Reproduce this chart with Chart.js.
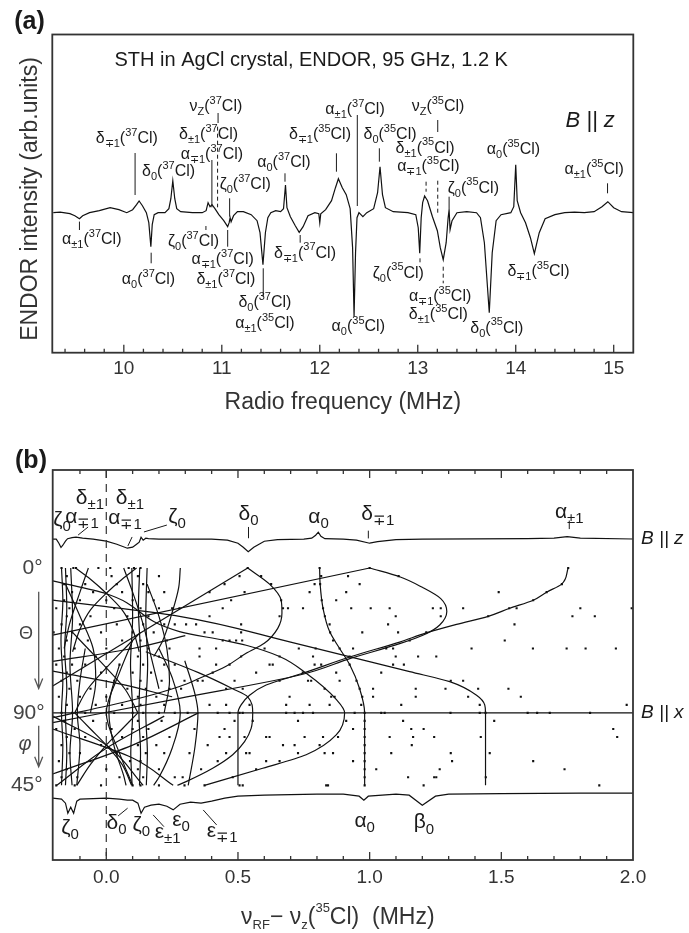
<!DOCTYPE html>
<html>
<head>
<meta charset="UTF-8">
<title>STH in AgCl – ENDOR</title>
<script src="https://cdn.jsdelivr.net/npm/chart.js"></script>
<style>
  body { margin: 0; background: #fff; }
  #wrap { position: relative; width: 689px; height: 933px; }
  canvas { position: absolute; left: 0; }
  #chartA { top: 0; }
  #chartB { top: 440px; }
</style>
</head>
<body>
<div id="wrap">
  <canvas id="chartA" width="689" height="420"></canvas>
  <canvas id="chartB" width="689" height="493"></canvas>
</div>
<script>
// ---------- data, panel (a): ENDOR spectrum for B || z ----------
const ticksA = [10, 11, 12, 13, 14, 15];
const specAFreq = [9.28, 9.35, 9.45, 9.50, 9.547, 9.58, 9.65, 9.75, 9.86, 9.95,
  10.03, 10.09, 10.13, 10.156, 10.19, 10.23, 10.255, 10.276, 10.29, 10.31,
  10.35, 10.42, 10.46, 10.48, 10.50, 10.52, 10.54, 10.58, 10.70, 10.80,
  10.84, 10.86, 10.88, 10.90, 10.93, 10.97, 11.02, 11.06, 11.075, 11.085,
  11.095, 11.12, 11.16, 11.22, 11.30, 11.36, 11.39, 11.42, 11.445, 11.47,
  11.50, 11.55, 11.60, 11.63, 11.65, 11.665, 11.70, 11.75, 11.79, 11.83,
  11.88, 11.95, 11.99, 12.00, 12.01, 12.06, 12.12, 12.16, 12.19, 12.23,
  12.27, 12.31, 12.335, 12.35, 12.365, 12.38, 12.40, 12.44, 12.48, 12.55,
  12.59, 12.615, 12.64, 12.67, 12.75, 12.90, 12.98, 13.005, 13.02, 13.035,
  13.05, 13.07, 13.10, 13.15, 13.20, 13.23, 13.26, 13.29, 13.31, 13.32,
  13.33, 13.35, 13.40, 13.50, 13.60, 13.64, 13.68, 13.73, 13.76, 13.80,
  13.85, 13.95, 13.98, 14.00, 14.015, 14.05, 14.10, 14.15, 14.19, 14.24,
  14.30, 14.40, 14.50, 14.60, 14.70, 14.80, 14.88, 14.94, 15.00, 15.08,
  15.20];
const specAInt = [0, 0.5, -1, -3, -6, -3, 0, 2, 5, 3,
  0, 3, 8, 11.7, 7, 0, -10, -34, -12, -2,
  0, 0, 4, 14, 32, 14, 4, 1, 0, 0,
  2, 10, 6, 8, 4, -2, -8, -14, -10, -5,
  -9, -3, 1, 1, -2, -8, -20, -52, -20, -5,
  0, 2, 1, 4, 27.7, 5, -4, -13, -19.6, -14,
  -3, 0, -1, -10, -1, 3, 12, 25, 34, 25,
  18, 4, -35, -104, -40, -5, 0, -4, 0, 4,
  20, 46, 18, 5, 1, 0, -2, -15, -40.6, -5,
  10, 16.7, 12, -4, -18, -35, -47, -30, -5, 3,
  -17, -8, 0, 1, 0, -5, -30, -100, -40, -8,
  -2, 0, 6, 48, 12, 0, -10, -25, -41, -20,
  -6, -2, 0, 0.5, 0, 1, 6, 11, 5, 1,
  0];

// line assignments: text, frequency (MHz), intensity
const labelsA = [
  ['δ_{∓1}(^{37}Cl)', 10.031, 73.7], ['δ_{0}(^{37}Cl)', 10.457, 41],
  ['ν_{Z}(^{37}Cl)', 10.94, 105.7], ['δ_{±1}(^{37}Cl)', 10.865, 77.7],
  ['α_{∓1}(^{37}Cl)', 10.899, 57.7], ['ζ_{0}(^{37}Cl)', 11.239, 27.7],
  ['α_{0}(^{37}Cl)', 11.634, 49.7], ['α_{±1}(^{37}Cl)', 12.36, 102.7],
  ['δ_{∓1}(^{35}Cl)', 12.002, 77.7], ['δ_{0}(^{35}Cl)', 12.717, 77.7],
  ['ν_{Z}(^{35}Cl)', 13.207, 105.7], ['δ_{±1}(^{35}Cl)', 13.075, 64.4],
  ['α_{∓1}(^{35}Cl)', 13.108, 46], ['ζ_{0}(^{35}Cl)', 13.568, 24.4],
  ['α_{0}(^{35}Cl)', 13.977, 62.7], ['α_{±1}(^{35}Cl)', 14.801, 42.7],
  ['α_{±1}(^{37}Cl)', 9.673, -27.3], ['α_{0}(^{37}Cl)', 10.252, -67.3],
  ['ζ_{0}(^{37}Cl)', 10.712, -29], ['α_{∓1}(^{37}Cl)', 11.008, -47.3],
  ['δ_{±1}(^{37}Cl)', 11.042, -67.3], ['δ_{0}(^{37}Cl)', 11.44, -90.3],
  ['α_{±1}(^{35}Cl)', 11.44, -111.3], ['δ_{∓1}(^{37}Cl)', 11.849, -40.6],
  ['α_{0}(^{35}Cl)', 12.393, -114], ['ζ_{0}(^{35}Cl)', 12.802, -60.6],
  ['α_{∓1}(^{35}Cl)', 13.228, -84], ['δ_{±1}(^{35}Cl)', 13.21, -102.3],
  ['δ_{0}(^{35}Cl)', 13.807, -115.6], ['δ_{∓1}(^{35}Cl)', 14.232, -59]
];
// marker strokes: frequency, from, to, dashed
const markersA = [
  [10.115, 59.7, 17.7, 0], [10.962, 99.7, 89.7, 0], [10.957, 86, 5.4, 1],
  [10.899, 52.7, 5.4, 0], [11.08, 14.4, -4, 0], [11.645, 39.4, 31, 0],
  [12.383, 97.7, 6.7, 0], [12.17, 59.4, 41, 0], [12.608, 64.4, 51, 0],
  [13.204, 92.7, 80.7, 0], [13.204, 32, 0, 1], [13.085, 31, 21, 1],
  [13.32, 16, 2.7, 0], [14.937, 29.4, 19.4, 0], [9.547, -8.9, -17.3, 0],
  [10.279, -40, -50.6, 0], [10.838, -13.3, -20.6, 1], [11.06, -17.3, -34, 0],
  [11.423, -55.6, -84, 0], [11.80, -22.3, -30, 0], [13.023, -45.6, -52.3, 1],
  [13.26, -54, -70.6, 1]
];

// ---------- data, panel (b): angular dependence ----------
const ticksB = [0.0, 0.5, 1.0, 1.5, 2.0];
// spectra B || z (top) and B || x (bottom): offset (MHz), intensity
const specTopX = [-0.2035, -0.19, -0.18, -0.172, -0.165, -0.155, -0.147, -0.13, -0.115, -0.09,
  -0.05, 0.0, 0.04, 0.08, 0.1, 0.115, 0.125, 0.132, 0.14, 0.15, 0.16, 0.2, 0.4, 0.46, 0.5,
  0.52, 0.539, 0.56, 0.6, 0.65, 0.75, 0.78, 0.795, 0.805, 0.815, 0.83, 0.9, 0.95, 1.0, 1.03,
  1.1, 1.2, 1.6, 1.7, 1.75, 1.8, 2.0];
const specTopI = [0, 0, -4, -8.3, -6, -2, 0.5, 1.5, 2, 1,
  0, -2, -5, -9, -8, -5, -3, 2, -1, 1, 0.5, 0, 0, -1, -4,
  -8, -12.5, -8, -2, -0.5, 0, 1, 4, 7, 3, 0.5, 0, -1, -4, -2.5,
  -0.5, 0, 0.5, 1, 2.5, 1, 0.2];
const specBotX = [-0.2035, -0.17, -0.155, -0.146, -0.135, -0.124, -0.112, -0.1, -0.05, 0.0,
  0.05, 0.08, 0.1, 0.12, 0.132, 0.145, 0.17, 0.2, 0.23, 0.254,
  0.28, 0.32, 0.36, 0.4, 0.45, 0.5, 0.6, 0.8, 0.9, 0.96,
  0.978, 0.995, 1.1, 1.15, 1.2, 1.25, 1.3, 1.5, 1.8, 2.0];
const specBotI = [0, -1, -5, -15, -9, -15, -3, -1, -0.5, 0,
  -1, -2, -2, -5, -15, -9, -7, -6, -8, -11.7,
  -6, -4, -5, -3, 0, 2, 3, 4, 4, 2,
  -2, 2, 4, 3, -7, 2, 4, 4.5, 5, 5];

// fitted line positions: [offset MHz, angle]; 0..90 = Theta, 90..135 = 90 + phi
const curveAlphaPM1 = [[1.754,0],[1.729,10],[1.672,15],[1.621,20],[1.532,25],[1.45,30],[1.33,35],
  [1.215,40.3],[1.114,46],[0.93,55],[0.746,65.4],[0.607,72.7],[0.544,79],[0.512,85],[0.5,90],[0.5,135]];
const curveDeltaMP1 = [[1.0,0],[1.114,5.4],[1.2,12],[1.27,19],[1.293,27],[1.266,35.4],[1.215,40.8],
  [1.114,47],[0.93,56],[0.746,66],[0.278,81],[-0.2035,96]];
const curveBeta = [[-0.2035,20],[0.0,24],[0.278,30],[0.7,46],[1.152,64.4],[1.304,70.6],[1.406,79],
  [1.437,85],[1.44,90],[1.44,135]];
const curveAlpha0 = [[0.81,0],[0.812,10],[0.823,25],[0.848,39.5],[0.886,50],[0.924,60],[0.962,75],
  [0.981,90],[0.981,135]];
const curveDelta0 = [[0.537,0],[0.62,10],[0.664,20],[0.667,28],[0.651,37.5],[0.6,46.8],[0.531,53],
  [0.455,61],[0.354,68.5],[0.278,73.6],[0.1,82],[-0.2035,93]];
const curveOuter = [[-0.2035,8],[0.0,16],[0.278,39.5],[0.45,45],[0.531,48],[0.658,55],[0.759,65.4],
  [0.873,81.6],[0.905,90],[0.873,103.7],[0.759,116],[0.594,124.4],[0.373,135]];
const curveInner = [[0.15,52],[0.35,65],[0.48,75],[0.537,80],[0.556,90],[0.55,99.6],[0.525,107.9],
  [0.48,116],[0.404,124.4],[0.303,132.7],[0.27,135]];
const lineD1 = [[1.0,0],[-0.2035,41.7]];
const lineD2 = [[0.537,0],[-0.2035,73.3]];
const tangleCurves = [
  [[-0.17,0],[-0.165,20],[-0.172,45],[-0.165,70],[-0.17,90],[-0.165,110],[-0.17,135]],
  [[-0.155,0],[-0.15,25],[-0.158,50],[-0.15,75],[-0.155,90],[-0.15,115],[-0.155,135]],
  [[-0.135,0],[-0.128,30],[-0.138,60],[-0.128,90],[-0.138,115],[-0.13,135]],
  [[0.097,0],[0.1,30],[0.092,60],[0.1,90],[0.093,115],[0.098,135]],
  [[0.127,0],[0.122,25],[0.13,55],[0.124,90],[0.13,115],[0.126,135]],
  [[0.155,0],[0.15,30],[0.157,60],[0.15,90],[0.156,115],[0.152,135]],
  [[-0.117,0],[-0.06,7],[0,15.7],[0.06,26],[0.1,38],[0.125,52]],
  [[0.115,0],[0.06,7],[0,15.7],[-0.06,26],[-0.1,38],[-0.128,52]],
  [[-0.128,40],[-0.07,50],[0,62],[0.07,75],[0.12,90]],
  [[0.13,40],[0.07,50],[0,62],[-0.07,75],[-0.12,90]],
  [[-0.12,90],[-0.06,100],[0,110],[0.06,122],[0.096,135]],
  [[0.12,90],[0.06,100],[0,110],[-0.06,122],[-0.112,135]],
  [[-0.068,0],[-0.1,15],[-0.14,35],[-0.16,50]],
  [[0.066,0],[0.1,15],[0.14,35],[0.17,55],[0.2,75]],
  [[0.2,50],[0.25,68],[0.281,90],[0.25,112],[0.2,130],[0.18,135]],
  [[0.298,57.6],[0.337,78.5],[0.348,90],[0.337,110.7],[0.311,135]],
  [[0.051,59.5],[0.015,80],[0.01,90],[0.03,111],[0.066,129],[0.075,135]],
  [[-0.08,50],[-0.1,70],[-0.11,90],[-0.1,110],[-0.112,135]],
  [[0.35,90],[0.1,110],[-0.2035,128]],
  [[-0.2035,100],[0.1,118],[0.254,135]],
  [[0.22,92],[0.0,112],[-0.188,135]],
  [[-0.2035,92],[0.0,110],[0.14,135]],
  [[0.281,0],[0.275,12],[0.249,28.2],[0.212,46],[0.18,55]],
  [[-0.155,10],[-0.1,30],[-0.05,50],[-0.04,70],[-0.06,90]],
  [[0.155,10],[0.2,30],[0.23,50],[0.24,70],[0.22,90]],
  [[0.1,45],[0.05,65],[0.0,90],[0.05,115],[0.1,135]],
  [[0.3,42],[0.1,50],[-0.2035,58]],
  [[-0.2035,64],[0.05,72],[0.25,80]]
];
// measured line positions: [angle, [offsets]]
const dotRows = [
  [0, [-0.17,-0.125,-0.115,-0.03,0.015,0.085,0.105,0.13,0.537,0.81,1.0,1.754]],
  [5, [-0.15,0.02,0.12,0.2,0.506,0.588,0.816,0.918,1.11]],
  [10, [-0.16,-0.08,0.04,0.14,0.449,0.626,0.791,0.812,0.962,1.73]],
  [15, [-0.13,-0.05,0.06,0.16,0.22,0.392,0.525,0.772,0.911,1.49,1.672]],
  [20, [-0.16,-0.1,0.0,0.1,0.18,0.474,0.664,0.818,0.873,1.621]],
  [25, [-0.19,-0.14,0.03,0.13,0.2,0.25,0.278,0.442,0.671,0.690,0.747,0.823,0.930,1.004,1.076,1.24,1.27,1.355,1.53,1.558,1.8,1.995]],
  [30, [-0.15,-0.06,0.08,0.16,0.392,0.658,0.83,1.099,1.27,1.45,1.77,1.855]],
  [35, [-0.17,-0.1,0.04,0.14,0.22,0.26,0.303,0.341,0.512,0.848,1.070,1.55]],
  [40, [-0.2,-0.13,-0.02,0.1,0.18,0.373,0.404,0.512,0.85,0.972,1.108,1.215]],
  [45, [-0.15,-0.07,0.06,0.13,0.23,0.442,0.468,0.493,0.516,0.861,1.152,1.513]],
  [50, [-0.18,-0.12,0.0,0.09,0.16,0.24,0.354,0.417,0.601,0.731,0.795,0.886,0.937,1.063,1.089,1.387,1.62,1.748,1.82,1.935]],
  [55, [-0.16,-0.04,0.12,0.2,0.354,0.512,0.658,0.785,0.924,1.099,1.184,1.253]],
  [60, [-0.19,-0.13,-0.08,0.05,0.14,0.22,0.26,0.417,0.468,0.620,0.632,0.791,0.816,0.924,1.089,1.13]],
  [65, [-0.15,-0.02,0.1,0.17,0.404,0.569,0.746,0.873,1.044]],
  [70, [-0.17,-0.11,0.03,0.13,0.21,0.297,0.347,0.366,0.487,0.658,0.766,0.778,0.886,0.95,1.308,1.355]],
  [75, [-0.14,-0.06,0.08,0.15,0.24,0.284,0.455,0.518,0.829,0.962,1.013,1.175,1.288,1.412,1.527]],
  [80, [-0.18,-0.1,0.0,0.12,0.19,0.696,0.854,0.867,0.972,1.013,1.175,1.374,1.574]],
  [85, [-0.15,-0.04,0.06,0.13,0.22,0.392,0.455,0.544,0.683,0.772,0.848,0.968,1.120,1.418,1.976]],
  [90, [-0.17,-0.13,-0.08,0.03,0.1,0.14,0.2,0.26,0.309,0.423,0.468,0.506,0.518,0.683,0.715,0.747,0.785,0.943,0.981,1.044,1.057,1.307,1.418,1.44,1.6,1.636,1.684,1.837]],
  [95, [-0.16,-0.05,0.12,0.21,0.487,0.556,0.728,0.911,0.981,1.127,1.473]],
  [100, [-0.19,-0.12,0.02,0.1,0.16,0.335,0.449,0.937,0.981,1.158,1.205,1.925]],
  [105, [-0.15,-0.08,0.06,0.14,0.24,0.430,0.468,0.525,0.607,0.620,0.753,0.823,0.880,0.981,1.076,1.165,1.245,1.422,1.94]],
  [110, [-0.17,-0.02,0.12,0.19,0.385,0.671,0.715,0.810,0.981,1.16]],
  [115, [-0.14,-0.1,0.04,0.15,0.22,0.316,0.455,0.531,0.544,0.728,0.829,0.861,0.981,1.082,1.308,1.456]],
  [120, [-0.18,-0.06,0.09,0.13,0.423,0.607,0.658,0.937,0.981,1.313,1.621]],
  [125, [-0.15,0.0,0.12,0.2,0.360,0.569,0.981,1.025,1.266,1.74]],
  [130, [-0.17,-0.11,0.05,0.14,0.26,0.290,0.480,0.981,1.146,1.245,1.253,1.441]],
  [135, [-0.19,-0.12,-0.02,0.1,0.13,0.2,0.297,0.373,0.506,0.518,0.835,0.842,0.981,1.205,1.872]]
];
const labelsB = [
  ['δ_{±1}', -0.062, -43.5], ['δ_{±1}', 0.09, -43.5], ['ζ_{0}', -0.168, -29.8],
  ['α_{∓1}', -0.092, -31.7], ['α_{∓1}', 0.071, -31], ['ζ_{0}', 0.269, -31.7],
  ['δ_{0}', 0.54, -33.7], ['α_{0}', 0.806, -31.7], ['δ_{∓1}', 1.031, -33.7],
  ['α_{±1}', 1.758, -34.8],
  ['ζ_{0}', -0.138, 161.7], ['δ_{0}', 0.039, 158.6], ['ζ_{0}', 0.133, 159.6],
  ['ε_{±1}', 0.233, 164], ['ε_{0}', 0.284, 156.5], ['ε_{∓1}', 0.44, 163.5],
  ['α_{0}', 0.981, 157.1], ['β_{0}', 1.206, 158.1]
];
const leadersB = [
  [-0.069,-25.5,-0.107,-20.5], [0.098,-19.3,0.082,-13.7], [0.23,-26.7,0.143,-22.4],
  [0.54,-25.5,0.54,-18.5], [0.995,-23.2,0.995,-18.4], [1.758,-29.5,1.758,-24.2],
  [0.045,154,0.081,149.2], [0.178,153.4,0.219,160.7], [0.368,150.3,0.419,159.6]
];

// ---------- drawing helpers ----------
const FONT = '"Liberation Sans", Arial, Helvetica, sans-serif';
Chart.defaults.font.family = FONT;
const INK = '#1a1a1a';

function richParts(str) {
  const out = [];
  const re = /([_^])\{([^}]*)\}|([^_^]+)/g;
  let m;
  while ((m = re.exec(str))) {
    if (m[3]) out.push({ t: m[3], k: 0 });
    else out.push({ t: m[2], k: m[1] === '_' ? 1 : 2 });
  }
  return out;
}

function drawRich(ctx, str, x, y, size, opts = {}) {
  const ps = richParts(str);
  const ratio = opts.ratio || 0.68;
  const fontOf = k => (opts.italic ? 'italic ' : '') + (k ? Math.round(size * ratio) : size) + 'px ' + FONT;
  let w = 0;
  ps.forEach(p => { ctx.font = fontOf(p.k); p.w = ctx.measureText(p.t).width; w += p.w; });
  let cx = opts.align === 'left' ? x : x - w / 2;
  ctx.textAlign = 'left';
  ctx.textBaseline = 'middle';
  ps.forEach(p => {
    ctx.font = fontOf(p.k);
    const dy = p.k === 1 ? size * 0.33 : p.k === 2 ? -size * 0.38 : 0;
    ctx.fillText(p.t, cx, y + dy);
    cx += p.w;
  });
}

const framePlugin = (panel) => ({
  id: 'frame' + panel,
  afterDraw(chart) {
    const { ctx, chartArea: a, scales: { x, y } } = chart;
    ctx.save();
    ctx.strokeStyle = '#333';
    ctx.lineWidth = 1.8;
    ctx.strokeRect(a.left, a.top, a.right - a.left, a.bottom - a.top);
    ctx.lineWidth = 1.3;
    ctx.beginPath();
    if (panel === 'A') {
      for (let i = 47; i <= 75; i++) {
        const px = x.getPixelForValue(i * 0.2);
        const len = i % 5 === 0 ? 8 : 4;
        ctx.moveTo(px, a.bottom); ctx.lineTo(px, a.bottom - len);
      }
    } else {
      for (let i = -1; i < 20; i++) {
        const px = x.getPixelForValue(i / 10);
        const len = i % 5 === 0 ? 8 : 4;
        ctx.moveTo(px, a.bottom); ctx.lineTo(px, a.bottom - len);
        ctx.moveTo(px, a.top); ctx.lineTo(px, a.top + len);
      }
    }
    ctx.stroke();

    ctx.fillStyle = INK;
    ctx.strokeStyle = INK;
    if (panel === 'A') {
      ctx.lineWidth = 1;
      markersA.forEach(([f, y1, y2, dashed]) => {
        ctx.setLineDash(dashed ? [4, 3] : []);
        ctx.beginPath();
        ctx.moveTo(x.getPixelForValue(f), y.getPixelForValue(y1));
        ctx.lineTo(x.getPixelForValue(f), y.getPixelForValue(y2));
        ctx.stroke();
      });
      ctx.setLineDash([]);
      labelsA.forEach(([t, f, v]) => drawRich(ctx, t, x.getPixelForValue(f), y.getPixelForValue(v), 16, { ratio: 0.7 }));
      ctx.font = '20px ' + FONT;
      ctx.textAlign = 'left'; ctx.textBaseline = 'middle';
      ctx.fillText('STH in AgCl crystal, ENDOR, 95 GHz, 1.2 K', x.getPixelForValue(9.905), y.getPixelForValue(152.7));
      ctx.font = 'italic 22px ' + FONT;
      ctx.textAlign = 'center';
      ctx.fillText('B || z', x.getPixelForValue(14.76), y.getPixelForValue(92));
      ctx.fillStyle = '#333';
      ctx.font = '23px ' + FONT;
      ctx.fillText('Radio frequency (MHz)', (a.left + a.right) / 2, a.bottom + 50);
      ctx.save();
      ctx.translate(31, 199);
      ctx.rotate(-Math.PI / 2);
      ctx.fillText('ENDOR intensity (arb.units)', 0, 0);
      ctx.restore();
      ctx.fillStyle = INK;
      ctx.font = 'bold 25px ' + FONT;
      ctx.fillText('(a)', 29.5, 22);
    } else {
      ctx.lineWidth = 1;
      leadersB.forEach(([x1, y1, x2, y2]) => {
        ctx.beginPath();
        ctx.moveTo(x.getPixelForValue(x1), y.getPixelForValue(y1));
        ctx.lineTo(x.getPixelForValue(x2), y.getPixelForValue(y2));
        ctx.stroke();
      });
      labelsB.forEach(([t, f, v]) => drawRich(ctx, t, x.getPixelForValue(f), y.getPixelForValue(v), 21, { ratio: 0.7 }));
      ctx.font = 'italic 19px ' + FONT;
      ctx.textAlign = 'left'; ctx.textBaseline = 'middle';
      ctx.fillText('B || z', a.right + 8, y.getPixelForValue(-17.9));
      ctx.fillText('B || x', a.right + 8, y.getPixelForValue(90));
      // angle scale on the left
      ctx.fillStyle = '#444';
      ctx.font = '21px ' + FONT;
      ctx.textAlign = 'right';
      ctx.fillText('0°', a.left - 10, y.getPixelForValue(0));
      ctx.fillText('90°', a.left - 8, y.getPixelForValue(90));
      ctx.fillText('45°', a.left - 10, y.getPixelForValue(135));
      ctx.textAlign = 'center';
      ctx.font = '18px ' + FONT;
      ctx.fillText('Θ', 26, y.getPixelForValue(41));
      ctx.font = 'italic 20px ' + FONT;
      ctx.fillText('φ', 25, y.getPixelForValue(109.6));
      ctx.strokeStyle = '#555';
      ctx.lineWidth = 1.3;
      [[14.8, 74.9], [98, 123.4]].forEach(([t0, t1]) => {
        const ax = a.left - 14, y0 = y.getPixelForValue(t0), y1 = y.getPixelForValue(t1);
        ctx.beginPath();
        ctx.moveTo(ax, y0); ctx.lineTo(ax, y1);
        ctx.moveTo(ax - 4, y1 - 10); ctx.lineTo(ax, y1); ctx.lineTo(ax + 4, y1 - 10);
        ctx.stroke();
      });
      ctx.fillStyle = '#333';
      drawRich(ctx, 'ν_{RF}− ν_{z}(^{35}Cl)  (MHz)', (a.left + a.right) / 2 - 5, a.bottom + 57.6, 23, { ratio: 0.55 });
      ctx.fillStyle = INK;
      ctx.font = 'bold 25px ' + FONT;
      ctx.textAlign = 'center';
      ctx.fillText('(b)', 31, 21);
    }
    ctx.restore();
  }
});

const baseOptions = (xMin, xMax, yMin, yMax, ticks, fmt, pad, axisH, reverse) => ({
  responsive: false,
  animation: false,
  devicePixelRatio: 1,
  layout: { padding: pad },
  plugins: { legend: { display: false }, tooltip: { enabled: false } },
  scales: {
    x: {
      type: 'linear', min: xMin, max: xMax,
      afterBuildTicks: s => { s.ticks = ticks.map(v => ({ value: v })); },
      afterFit: s => { s.height = axisH; },
      ticks: { autoSkip: false, maxRotation: 0, padding: pad.tickPad, font: { size: 19 }, color: '#333', callback: fmt },
      grid: { display: false, drawTicks: false },
      border: { display: false }
    },
    y: { type: 'linear', display: false, min: yMin, max: yMax, reverse: reverse }
  }
});

// ---------- chart (a) ----------
new Chart(document.getElementById('chartA'), {
  type: 'line',
  data: {
    datasets: [{
      data: specAFreq.map((f, i) => ({ x: f, y: specAInt[i] })),
      borderColor: '#111', borderWidth: 1.2, pointRadius: 0, tension: 0
    }]
  },
  options: baseOptions(9.27, 15.2, -140, 178.2, ticksA, v => String(v),
    { left: 52.3, right: 55.7, top: 34.5, bottom: 0, tickPad: 5 }, 67.3, false),
  plugins: [framePlugin('A')]
});

// ---------- chart (b) ----------
const toXY = pts => pts.map(([x, y]) => ({ x, y }));
const curve = pts => ({
  data: toXY(pts), indexAxis: 'y', borderColor: '#111', borderWidth: 1.2,
  pointRadius: 0, cubicInterpolationMode: 'monotone', tension: 0.4
});
const straight = pts => ({ data: toXY(pts), indexAxis: 'y', borderColor: '#111', borderWidth: 1.2, pointRadius: 0, tension: 0 });
const dots = [];
dotRows.forEach(([ang, xs]) => xs.forEach(v => dots.push({ x: v, y: ang })));

const datasetsB = [
  curve(curveAlphaPM1), curve(curveDeltaMP1), curve(curveBeta), curve(curveAlpha0),
  curve(curveDelta0), curve(curveOuter), curve(curveInner),
  straight(lineD1), straight(lineD2),
  ...tangleCurves.map(curve),
  { type: 'scatter', data: dots, pointStyle: 'rect', pointRadius: 1.5, backgroundColor: '#111', borderWidth: 0, showLine: false },
  straight([[-0.2035, 90], [2.0, 90]]),
  { data: toXY([[0, -60.9], [0, 181.4]]), indexAxis: 'y', borderColor: '#333', borderWidth: 1.2, borderDash: [8, 6], pointRadius: 0, tension: 0 },
  { data: specTopX.map((f, i) => ({ x: f, y: -17.9 - specTopI[i] / 1.61 })), borderColor: '#111', borderWidth: 1.2, pointRadius: 0, tension: 0 },
  { data: specBotX.map((f, i) => ({ x: f, y: 143.0 - specBotI[i] / 1.61 })), borderColor: '#111', borderWidth: 1.2, pointRadius: 0, tension: 0 }
];

new Chart(document.getElementById('chartB'), {
  type: 'line',
  data: { datasets: datasetsB },
  options: baseOptions(-0.2035, 2.0, -60.9, 181.4, ticksB, v => Number(v).toFixed(1),
    { left: 52.7, right: 56, top: 30, bottom: 0, tickPad: 6.6 }, 73, true),
  plugins: [framePlugin('B')]
});
</script>
</body>
</html>
